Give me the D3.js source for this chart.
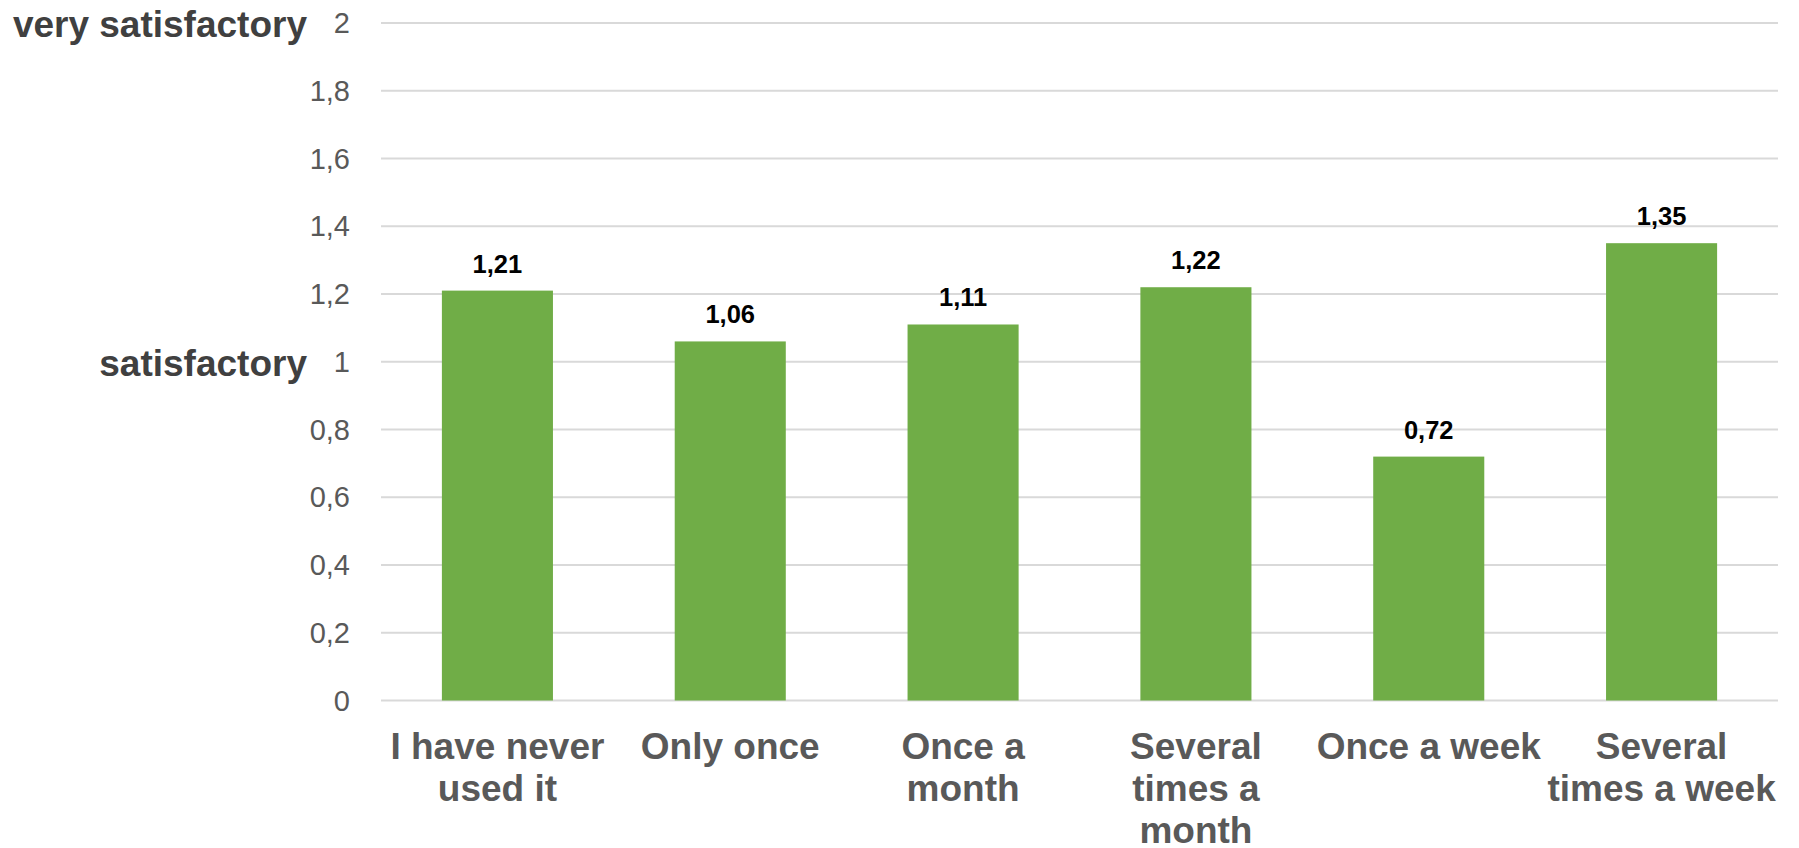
<!DOCTYPE html>
<html>
<head>
<meta charset="utf-8">
<script src="https://cdn.jsdelivr.net/npm/d3@7/dist/d3.min.js"></script>
<style>
  html, body { margin: 0; padding: 0; background: #ffffff; }
  svg { display: block; }
  text { font-family: "Liberation Sans", Arial, Helvetica, sans-serif; }
</style>
</head>
<body>
<svg id="chart" width="1799" height="848"></svg>
<script>
// Usage frequency categories (each entry split into its wrapped lines)
const categories = [
  ["I have never", "used it"],
  ["Only once"],
  ["Once a", "month"],
  ["Several", "times a", "month"],
  ["Once a week"],
  ["Several", "times a week"]
];
// Mean satisfaction score per category
const values = [1.21, 1.06, 1.11, 1.22, 0.72, 1.35];
// Y axis ticks
const yTicks = [0, 0.2, 0.4, 0.6, 0.8, 1, 1.2, 1.4, 1.6, 1.8, 2];
// Verbal anchors on the score axis
const anchorLabels = [
  { value: 2, text: "very satisfactory" },
  { value: 1, text: "satisfactory" }
];

const svg = d3.select("#chart");
const plot = { left: 381, right: 1778, top: 23, bottom: 700.5 };

const fmt = v => String(+v.toFixed(2)).replace(".", ",");

const x = d3.scaleBand()
  .domain(d3.range(categories.length))
  .range([plot.left, plot.right])
  .paddingInner(0.523)
  .paddingOuter(0.2615);

const y = d3.scaleLinear()
  .domain([0, 2])
  .range([plot.bottom, plot.top]);

// Horizontal gridlines
svg.append("g")
  .selectAll("line")
  .data(yTicks)
  .join("line")
  .attr("x1", plot.left)
  .attr("x2", plot.right)
  .attr("y1", d => y(d))
  .attr("y2", d => y(d))
  .attr("stroke", "#d9d9d9")
  .attr("stroke-width", 2);

// Y tick labels
svg.append("g")
  .selectAll("text")
  .data(yTicks)
  .join("text")
  .attr("x", 350)
  .attr("y", d => y(d))
  .attr("dy", "0.35em")
  .attr("text-anchor", "end")
  .attr("font-size", 29)
  .attr("fill", "#595959")
  .text(d => fmt(d));

// Verbal anchor labels
svg.append("g")
  .selectAll("text")
  .data(anchorLabels)
  .join("text")
  .attr("x", 307)
  .attr("y", d => y(d.value) + 14)
  .attr("text-anchor", "end")
  .attr("font-size", 37)
  .attr("font-weight", "bold")
  .attr("fill", "#404040")
  .text(d => d.text);

// Bars
svg.append("g")
  .selectAll("rect")
  .data(values)
  .join("rect")
  .attr("x", (d, i) => x(i))
  .attr("width", x.bandwidth())
  .attr("y", d => y(d))
  .attr("height", d => y(0) - y(d))
  .attr("fill", "#70ad47");

// Value labels
svg.append("g")
  .selectAll("text")
  .data(values)
  .join("text")
  .attr("x", (d, i) => x(i) + x.bandwidth() / 2)
  .attr("y", d => y(d) - 18)
  .attr("text-anchor", "middle")
  .attr("font-size", 25.5)
  .attr("font-weight", "bold")
  .attr("fill", "#000000")
  .text(d => fmt(d));

// Category labels
const xl = svg.append("g")
  .selectAll("text")
  .data(categories)
  .join("text")
  .attr("x", (d, i) => x(i) + x.bandwidth() / 2)
  .attr("y", 759)
  .attr("text-anchor", "middle")
  .attr("font-size", 37)
  .attr("font-weight", "bold")
  .attr("fill", "#595959");

xl.selectAll("tspan")
  .data((d, i) => d.map(line => ({ line, i })))
  .join("tspan")
  .attr("x", d => x(d.i) + x.bandwidth() / 2)
  .attr("dy", (d, j) => j === 0 ? 0 : 42)
  .text(d => d.line);
</script>
</body>
</html>
